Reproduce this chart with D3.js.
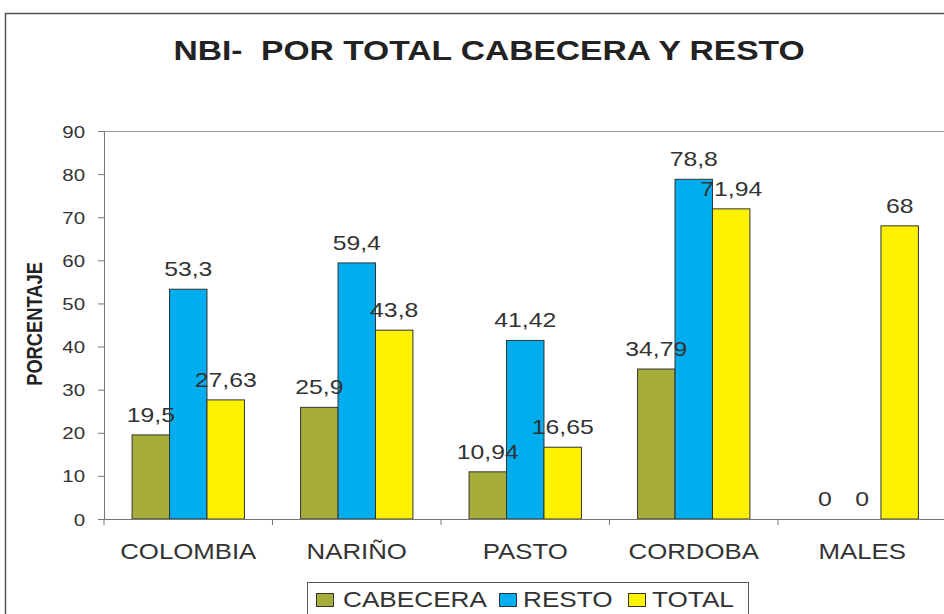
<!DOCTYPE html>
<html>
<head>
<meta charset="UTF-8">
<style>
  body { margin: 0; padding: 0; background: #fff; }
  svg { display: block; font-family: Arial, "Liberation Sans", sans-serif; }
  text { white-space: pre; }
</style>
</head>
<body>
<svg width="944" height="614"></svg>
<script src="https://d3js.org/d3.v7.min.js"></script>
<script>
const categories = ["COLOMBIA", "NARIÑO", "PASTO", "CORDOBA", "MALES"];
const seriesNames = ["CABECERA", "RESTO", "TOTAL"];
const cabecera = [19.5, 25.9, 10.94, 34.79, 0];
const resto = [53.3, 59.4, 41.42, 78.8, 0];
const total = [27.63, 43.8, 16.65, 71.94, 68];
const yTicks = [0, 10, 20, 30, 40, 50, 60, 70, 80, 90];
const colors = ["#A6AD3B", "#00AEEF", "#FFF200"];

// the original picture is stretched horizontally, so text is widened a bit
const S = 1.2;

const seriesValues = [cabecera, resto, total];
const rows = categories.map((c, i) => ({
  cat: c,
  vals: seriesNames.map((s, j) => ({ key: s, value: seriesValues[j][i], color: colors[j] }))
}));

const svg = d3.select("svg");
const fmt = v => String(v).replace(".", ",");

// outer chart frame
svg.append("rect")
  .attr("x", 5.5).attr("y", 13.5)
  .attr("width", 960).attr("height", 640)
  .attr("fill", "none").attr("stroke", "#555").attr("stroke-width", 1.5);

svg.append("text")
  .attr("transform", `translate(489,60) scale(${S},1)`)
  .attr("text-anchor", "middle")
  .attr("font-size", 28).attr("font-weight", "bold").attr("fill", "#222")
  .text("NBI-  POR TOTAL CABECERA Y RESTO");

const plot = { left: 104, right: 946.5, top: 131, bottom: 519 };

const x0 = d3.scaleBand().domain(categories)
  .range([plot.left, plot.right]).paddingInner(0.3333).paddingOuter(0.1667);
const x1 = d3.scaleBand().domain(seriesNames).range([0, x0.bandwidth()]);
const y = d3.scaleLinear().domain([0, 90]).range([plot.bottom, plot.top]);

// plot top border
svg.append("line")
  .attr("x1", plot.left).attr("x2", plot.right)
  .attr("y1", plot.top + 0.5).attr("y2", plot.top + 0.5)
  .attr("stroke", "#999").attr("stroke-width", 1);

const groups = svg.append("g").selectAll("g")
  .data(rows).join("g")
  .attr("transform", d => `translate(${x0(d.cat)},0)`);

groups.selectAll("rect")
  .data(d => d.vals).join("rect")
  .attr("x", d => x1(d.key))
  .attr("y", d => y(d.value))
  .attr("width", x1.bandwidth())
  .attr("height", d => y(0) - y(d.value))
  .attr("fill", d => d.color)
  .attr("stroke", d => d.value > 0 ? "#333" : "none")
  .attr("stroke-width", 1);

groups.selectAll("text")
  .data(d => d.vals).join("text")
  .attr("transform", d => `translate(${x1(d.key) + x1.bandwidth() / 2},${y(d.value) - 13}) scale(1.24,1)`)
  .attr("text-anchor", "middle")
  .attr("font-size", 20).attr("fill", "#333")
  .text(d => fmt(d.value));

// y axis
const yAxis = svg.append("g")
  .attr("transform", `translate(${plot.left},0)`)
  .call(d3.axisLeft(y).tickValues(yTicks).tickSize(6).tickFormat(d3.format("d")));
yAxis.select(".domain").attr("stroke", "#777");
yAxis.selectAll(".tick line").attr("stroke", "#777");
yAxis.selectAll(".tick text")
  .attr("x", -15.5).attr("dy", "0.36em")
  .attr("transform", `scale(1.22,1)`)
  .attr("font-size", 16.8).attr("fill", "#333")
  .attr("font-family", "Arial, 'Liberation Sans', sans-serif");

// x axis
const xAxis = svg.append("g")
  .attr("transform", `translate(0,${plot.bottom})`)
  .call(d3.axisBottom(x0).tickSize(0));
xAxis.select(".domain").attr("stroke", "#777");
xAxis.selectAll(".tick text")
  .attr("y", 0).attr("dy", 0)
  .attr("transform", `translate(0,40) scale(${S},1)`)
  .attr("font-size", 21.5).attr("fill", "#333")
  .attr("font-family", "Arial, 'Liberation Sans', sans-serif");
// category separators
const step = x0.step();
svg.append("g").selectAll("line")
  .data(d3.range(categories.length + 1)).join("line")
  .attr("x1", i => plot.left + i * step).attr("x2", i => plot.left + i * step)
  .attr("y1", plot.bottom).attr("y2", plot.bottom + 6)
  .attr("stroke", "#777");

svg.append("text")
  .attr("transform", `translate(41.5,324) scale(${S},1) rotate(-90)`)
  .attr("text-anchor", "middle")
  .attr("font-size", 18.3).attr("font-weight", "bold").attr("fill", "#222")
  .text("PORCENTAJE");

// legend
const legend = svg.append("g");
legend.append("rect")
  .attr("x", 307.5).attr("y", 582.5).attr("width", 441).attr("height", 50)
  .attr("fill", "#fff").attr("stroke", "#555").attr("stroke-width", 1);
const legendSq = [316, 499, 628];
const legendTx = [343, 523, 652];
const items = legend.selectAll("g.item")
  .data(seriesNames).join("g").attr("class", "item");
items.append("rect")
  .attr("x", (d, i) => legendSq[i] + 0.5).attr("y", 593.5)
  .attr("width", 17).attr("height", 13)
  .attr("fill", (d, i) => colors[i]).attr("stroke", "#333");
items.append("text")
  .attr("transform", (d, i) => `translate(${legendTx[i]},607) scale(1.19,1)`)
  .attr("font-size", 22).attr("fill", "#333")
  .text(d => d);
</script>
</body>
</html>
